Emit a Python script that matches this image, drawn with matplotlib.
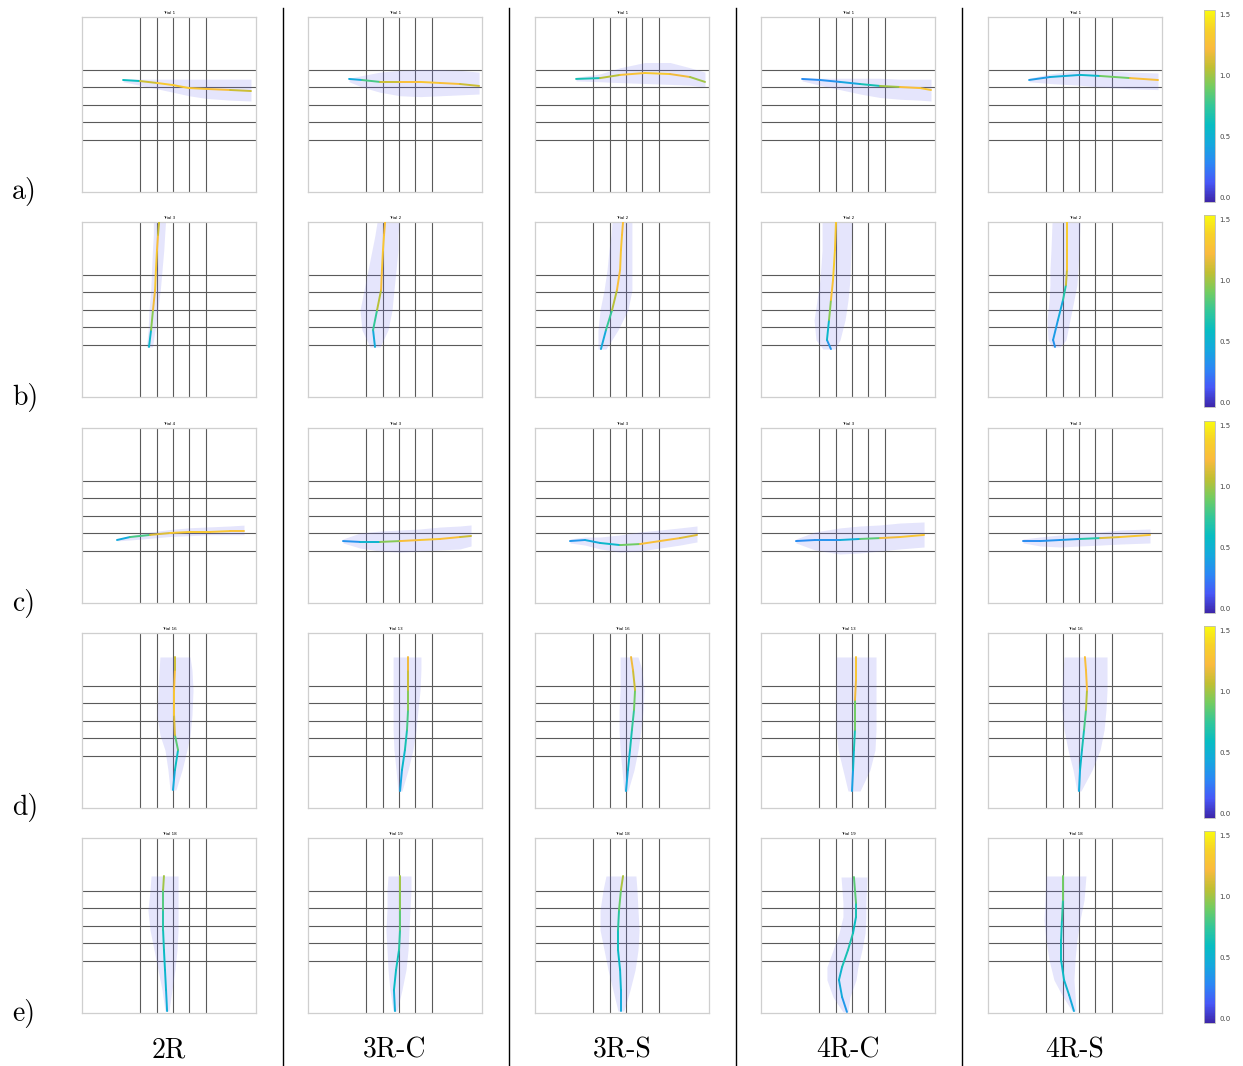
import numpy as np
import matplotlib; matplotlib.use("Agg")
import matplotlib.pyplot as plt
from matplotlib.collections import LineCollection
from matplotlib.colors import LinearSegmentedColormap, Normalize
from matplotlib.lines import Line2D
from matplotlib.cm import ScalarMappable

# ── data ──────────────────────────────────────────────────────────────────────
methods = ["2R", "3R-C", "3R-S", "4R-C", "4R-S"]
row_labels = ["a)", "b)", "c)", "d)", "e)"]
trials = [
    ["Trial 1", "Trial 1", "Trial 1", "Trial 1", "Trial 1"],
    ["Trial 3", "Trial 2", "Trial 2", "Trial 2", "Trial 2"],
    ["Trial 4", "Trial 3", "Trial 3", "Trial 3", "Trial 3"],
    ["Trial 16", "Trial 13", "Trial 16", "Trial 13", "Trial 16"],
    ["Trial 18", "Trial 19", "Trial 18", "Trial 19", "Trial 18"],
]
grid_x = [3.33, 4.31, 5.23, 6.15, 7.13]
grid_y = [3.0, 4.0, 5.0, 6.0, 7.0]
cbar_ticks = [0.0, 0.5, 1.0, 1.5]

# row a (horizontal moves): x, y, speed, band low/high in y
a_x = [[2.36, 3.33, 4.31, 5.23, 6.15, 7.13, 8.51, 9.71],
       [2.36, 3.10, 4.14, 5.29, 6.44, 7.59, 8.74, 9.83],
       [2.36, 3.74, 4.89, 6.32, 7.76, 8.91, 9.77],
       [2.36, 3.39, 4.54, 5.69, 6.84, 7.99, 9.14, 9.77],
       [2.36, 3.56, 5.29, 6.44, 8.16, 9.77]]
a_y = [[6.40, 6.34, 6.23, 6.11, 5.94, 5.89, 5.83, 5.77],
       [6.46, 6.40, 6.29, 6.29, 6.29, 6.23, 6.17, 6.06],
       [6.46, 6.51, 6.69, 6.80, 6.74, 6.57, 6.29],
       [6.46, 6.40, 6.29, 6.17, 6.06, 6.00, 5.94, 5.83],
       [6.40, 6.57, 6.69, 6.63, 6.51, 6.40]]
a_c = [[0.3, 0.9, 1.3, 1.35, 1.3, 1.3, 1.2, 1.0],
       [0.3, 0.6, 1.0, 1.2, 1.3, 1.3, 1.2, 1.0],
       [0.4, 0.9, 1.2, 1.35, 1.3, 1.1, 0.9],
       [0.3, 0.3, 0.35, 0.5, 0.8, 1.2, 1.3, 1.3],
       [0.3, 0.45, 0.5, 0.6, 1.2, 1.3]]
a_lo = [[6.3, 6.1, 5.9, 5.7, 5.5, 5.35, 5.25, 5.2],
        [6.3, 6.0, 5.7, 5.5, 5.45, 5.5, 5.55, 5.6],
        [6.35, 6.3, 6.25, 6.2, 6.15, 6.1, 6.0],
        [6.35, 6.1, 5.85, 5.6, 5.4, 5.3, 5.25, 5.2],
        [6.3, 6.2, 6.1, 6.0, 5.9, 5.85]]
a_hi = [[6.45, 6.45, 6.45, 6.45, 6.45, 6.45, 6.45, 6.45],
        [6.5, 6.65, 6.85, 6.95, 7.0, 7.0, 6.95, 6.85],
        [6.55, 6.75, 7.1, 7.4, 7.4, 7.1, 6.85],
        [6.5, 6.5, 6.5, 6.5, 6.5, 6.45, 6.45, 6.45],
        [6.5, 6.75, 6.95, 6.95, 6.85, 6.8]]

# row b (vertical moves): band low/high in x
b_x = [[3.85, 3.97, 4.08, 4.20, 4.25, 4.31, 4.37, 4.43],
       [3.85, 3.74, 3.97, 4.20, 4.25, 4.31, 4.37, 4.43],
       [3.79, 4.08, 4.43, 4.71, 4.89, 4.94, 5.00, 5.06],
       [4.02, 3.79, 3.91, 4.02, 4.14, 4.25, 4.31],
       [3.85, 3.74, 4.02, 4.31, 4.48, 4.54, 4.54, 4.54]]
b_y = [[2.86, 3.83, 4.97, 6.11, 7.26, 8.40, 9.26, 10.0],
       [2.86, 3.83, 4.97, 6.11, 7.26, 8.40, 9.26, 10.0],
       [2.74, 3.83, 4.97, 6.11, 7.26, 8.40, 9.26, 10.0],
       [2.74, 3.26, 4.40, 5.54, 6.69, 8.40, 10.0],
       [2.86, 3.26, 4.40, 5.54, 6.40, 7.26, 8.40, 10.0]]
b_c = [[0.3, 0.8, 1.1, 1.3, 1.35, 1.3, 1.2, 1.0],
       [0.3, 0.6, 0.9, 1.2, 1.3, 1.3, 1.3, 1.2],
       [0.3, 0.6, 0.9, 1.2, 1.3, 1.3, 1.3, 1.2],
       [0.3, 0.4, 0.7, 1.2, 1.35, 1.35, 1.3],
       [0.3, 0.35, 0.4, 0.5, 0.9, 1.3, 1.35, 1.35]]
b_lo = [[3.7, 3.8, 3.85, 3.95, 4.0, 4.05, 4.1, 4.1],
        [3.56, 3.10, 2.99, 3.22, 3.45, 3.68, 3.85, 3.97],
        [3.62, 3.62, 3.74, 3.97, 4.14, 4.25, 4.37, 4.43],
        [3.56, 3.16, 3.05, 3.22, 3.39, 3.51, 3.51],
        [3.68, 3.45, 3.39, 3.51, 3.56, 3.56, 3.62, 3.68]]
b_hi = [[4.05, 4.2, 4.35, 4.5, 4.6, 4.7, 4.75, 4.8],
        [4.14, 4.60, 4.83, 4.94, 5.06, 5.17, 5.17, 5.23],
        [4.08, 4.77, 5.34, 5.57, 5.57, 5.57, 5.57, 5.57],
        [4.25, 4.54, 4.83, 5.00, 5.11, 5.17, 5.23],
        [4.14, 4.48, 4.71, 4.94, 5.11, 5.17, 5.23, 5.29]]

# row c (horizontal moves)
c_x = [[2.01, 2.76, 3.91, 5.06, 6.21, 7.36, 8.51, 9.31],
       [2.01, 2.99, 4.14, 5.29, 6.44, 7.59, 8.74, 9.37],
       [2.01, 2.87, 3.74, 4.89, 6.03, 7.18, 8.33, 9.31],
       [2.01, 3.10, 4.54, 5.69, 6.84, 7.99, 9.37],
       [2.01, 2.99, 4.14, 5.29, 6.44, 7.59, 9.31]]
c_y = [[3.60, 3.77, 3.89, 4.00, 4.06, 4.06, 4.11, 4.11],
       [3.54, 3.49, 3.49, 3.54, 3.60, 3.66, 3.77, 3.83],
       [3.54, 3.60, 3.43, 3.31, 3.37, 3.54, 3.71, 3.89],
       [3.54, 3.60, 3.60, 3.66, 3.71, 3.77, 3.89],
       [3.54, 3.54, 3.60, 3.66, 3.71, 3.77, 3.89]]
c_c = [[0.3, 0.6, 1.0, 1.3, 1.35, 1.3, 1.3, 1.25],
       [0.3, 0.35, 0.7, 1.2, 1.3, 1.3, 1.2, 1.0],
       [0.3, 0.4, 0.5, 0.6, 1.2, 1.3, 1.2, 1.1],
       [0.3, 0.3, 0.35, 0.6, 1.1, 1.3, 1.3],
       [0.3, 0.3, 0.35, 0.4, 1.0, 1.3, 1.3]]
c_lo = [[3.55, 3.6, 3.7, 3.8, 3.85, 3.9, 3.9, 3.9],
        [3.43, 3.14, 2.97, 2.91, 2.97, 3.03, 3.09, 3.26],
        [3.43, 3.31, 3.09, 2.91, 2.97, 3.14, 3.31, 3.49],
        [3.43, 3.03, 2.80, 2.86, 2.97, 3.09, 3.20],
        [3.43, 3.26, 3.20, 3.26, 3.31, 3.37, 3.43]]
c_hi = [[3.65, 3.85, 4.05, 4.2, 4.3, 4.35, 4.4, 4.45],
        [3.66, 4.00, 4.11, 4.17, 4.23, 4.34, 4.40, 4.46],
        [3.66, 3.77, 3.77, 3.89, 4.06, 4.17, 4.29, 4.40],
        [3.66, 4.06, 4.29, 4.40, 4.46, 4.57, 4.63],
        [3.66, 3.77, 3.89, 4.00, 4.06, 4.17, 4.23]]

# row d (vertical moves)
d_x = [[5.23, 5.34, 5.52, 5.34, 5.29, 5.29, 5.34, 5.34],
       [5.29, 5.40, 5.57, 5.69, 5.75, 5.75, 5.75, 5.75],
       [5.23, 5.34, 5.46, 5.57, 5.69, 5.75, 5.63, 5.52],
       [5.23, 5.29, 5.34, 5.40, 5.40, 5.46, 5.46],
       [5.23, 5.29, 5.40, 5.52, 5.63, 5.69, 5.63, 5.57]]
d_y = [[1.03, 2.17, 3.31, 4.17, 5.31, 6.74, 7.89, 8.63],
       [0.97, 2.17, 3.31, 4.46, 5.60, 6.74, 7.89, 8.63],
       [0.97, 2.17, 3.31, 4.46, 5.60, 6.74, 7.89, 8.63],
       [0.97, 2.17, 3.31, 4.46, 6.17, 7.31, 8.63],
       [0.97, 2.17, 3.31, 4.46, 5.60, 6.74, 7.89, 8.63]]
d_c = [[0.4, 0.5, 0.7, 1.0, 1.3, 1.3, 1.2, 1.0],
       [0.35, 0.5, 0.6, 0.7, 0.9, 1.0, 1.2, 1.2],
       [0.4, 0.5, 0.6, 0.7, 0.8, 1.0, 1.2, 1.2],
       [0.3, 0.5, 0.6, 0.7, 1.1, 1.3, 1.3],
       [0.4, 0.5, 0.6, 0.7, 0.9, 1.2, 1.3, 1.2]]
d_lo = [[5.06, 4.94, 4.77, 4.48, 4.31, 4.37, 4.43, 4.48],
        [5.17, 5.06, 4.94, 4.89, 4.89, 4.89, 4.89, 4.89],
        [5.11, 5.00, 4.89, 4.83, 4.83, 4.89, 4.89, 4.89],
        [5.00, 4.71, 4.43, 4.31, 4.31, 4.31, 4.31],
        [5.11, 4.89, 4.60, 4.37, 4.25, 4.25, 4.31, 4.37]]
d_hi = [[5.40, 5.75, 6.03, 6.21, 6.32, 6.38, 6.32, 6.21],
        [5.40, 5.75, 6.03, 6.21, 6.32, 6.44, 6.49, 6.49],
        [5.34, 5.69, 5.92, 6.09, 6.21, 6.26, 6.15, 5.92],
        [5.69, 6.26, 6.55, 6.61, 6.61, 6.61, 6.61],
        [5.34, 5.98, 6.44, 6.67, 6.78, 6.84, 6.84, 6.84]]

# row e (vertical moves)
e_x = [[4.89, 4.83, 4.77, 4.71, 4.66, 4.66, 4.66, 4.71],
       [5.00, 4.94, 5.06, 5.23, 5.29, 5.29, 5.29, 5.29],
       [4.94, 4.94, 4.89, 4.77, 4.77, 4.83, 4.94, 5.06],
       [4.94, 4.66, 4.48, 4.66, 5.00, 5.29, 5.46, 5.46, 5.34],
       [4.94, 4.66, 4.37, 4.20, 4.20, 4.25, 4.31, 4.31]]
e_y = [[0.11, 1.31, 2.46, 3.60, 4.74, 5.89, 7.03, 7.83],
       [0.11, 1.31, 2.46, 3.60, 4.74, 5.89, 7.03, 7.83],
       [0.11, 1.31, 2.46, 3.60, 4.74, 5.89, 7.03, 7.83],
       [0.06, 0.91, 1.89, 2.63, 3.60, 4.57, 5.49, 6.29, 7.77],
       [0.11, 1.03, 1.89, 3.03, 4.17, 5.31, 6.46, 7.83]]
e_c = [[0.45, 0.5, 0.55, 0.6, 0.65, 0.75, 0.9, 1.1],
       [0.4, 0.55, 0.6, 0.65, 0.8, 0.9, 1.0, 1.0],
       [0.4, 0.5, 0.55, 0.6, 0.65, 0.8, 0.95, 1.1],
       [0.3, 0.4, 0.5, 0.55, 0.75, 0.6, 0.6, 0.7, 1.0],
       [0.4, 0.5, 0.55, 0.6, 0.6, 0.65, 0.8, 1.0]]
e_lo = [[4.77, 4.60, 4.37, 4.14, 3.91, 3.79, 3.91, 3.97],
        [4.89, 4.71, 4.60, 4.54, 4.48, 4.54, 4.54, 4.60],
        [4.77, 4.48, 4.20, 3.97, 3.74, 3.74, 3.91, 4.08],
        [4.71, 4.14, 3.79, 3.79, 4.14, 4.48, 4.71, 4.71, 4.60],
        [4.83, 4.25, 3.79, 3.51, 3.33, 3.22, 3.28, 3.33]]
e_hi = [[5.00, 5.17, 5.34, 5.46, 5.52, 5.52, 5.52, 5.52],
        [5.11, 5.40, 5.63, 5.75, 5.80, 5.86, 5.92, 5.92],
        [5.11, 5.46, 5.75, 5.92, 5.98, 5.92, 5.86, 5.80],
        [5.00, 5.11, 5.46, 5.57, 5.80, 5.98, 6.03, 6.03, 6.09],
        [5.06, 5.00, 4.94, 5.00, 5.11, 5.29, 5.52, 5.63]]

rows = [
    ("h", a_x, a_y, a_c, a_lo, a_hi),
    ("v", b_x, b_y, b_c, b_lo, b_hi),
    ("h", c_x, c_y, c_c, c_lo, c_hi),
    ("v", d_x, d_y, d_c, d_lo, d_hi),
    ("v", e_x, e_y, e_c, e_lo, e_hi),
]

# ── style ─────────────────────────────────────────────────────────────────────
# rough MATLAB parula
parula = LinearSegmentedColormap.from_list("parula", [
    (0.00, (0.24, 0.15, 0.66)),
    (0.10, (0.28, 0.34, 0.97)),
    (0.20, (0.17, 0.53, 0.96)),
    (0.30, (0.08, 0.66, 0.87)),
    (0.40, (0.03, 0.74, 0.76)),
    (0.50, (0.20, 0.78, 0.60)),
    (0.60, (0.45, 0.80, 0.38)),
    (0.70, (0.75, 0.75, 0.20)),
    (0.80, (0.98, 0.73, 0.24)),
    (0.90, (0.97, 0.82, 0.16)),
    (1.00, (0.98, 0.98, 0.06)),
])
norm = Normalize(vmin=-0.04, vmax=1.54)

W, H = 1243, 1066
col_left = [82, 308, 535, 761, 988]
row_top = [17, 222, 428, 633, 838]
PW, PH = 174, 175

fig = plt.figure(figsize=(W / 100, H / 100), dpi=100)


def fbox(x, y, w, h):
    return [x / W, 1 - (y + h) / H, w / W, h / H]


for r, (kind, xs, ys, cs, los, his) in enumerate(rows):
    for m in range(5):
        ax = fig.add_axes(fbox(col_left[m], row_top[r], PW, PH))
        ax.set_xlim(0, 10); ax.set_ylim(0, 10)
        ax.set_xticks([]); ax.set_yticks([])
        for s in ax.spines.values():
            s.set_color("#cfcfcf"); s.set_linewidth(0.9)
        for gx in grid_x:
            ax.axvline(gx, color="#5a5a5a", lw=0.8, zorder=1)
        for gy in grid_y:
            ax.axhline(gy, color="#5a5a5a", lw=0.8, zorder=1)

        x = np.array(xs[m]); y = np.array(ys[m]); c = np.array(cs[m])
        if kind == "h":
            ax.fill_between(x, los[m], his[m], color="#7070f0", alpha=0.18,
                            lw=0, zorder=2)
        else:
            ax.fill_betweenx(y, los[m], his[m], color="#7070f0", alpha=0.18,
                             lw=0, zorder=2)
        pts = np.column_stack([x, y])
        segs = np.stack([pts[:-1], pts[1:]], axis=1)
        lc = LineCollection(segs, cmap=parula, norm=norm, lw=1.4, zorder=3,
                            capstyle="round")
        lc.set_array((c[:-1] + c[1:]) / 2)
        ax.add_collection(lc)
        ax.set_title(trials[r][m], fontsize=3, pad=2)

    # colorbar for the row
    cax = fig.add_axes(fbox(1204, row_top[r] - 7, 11, 192))
    cb = fig.colorbar(ScalarMappable(norm=norm, cmap=parula), cax=cax)
    cb.set_ticks(cbar_ticks)
    cb.ax.tick_params(labelsize=5, length=0, pad=3, colors="#444444")
    cb.outline.set_edgecolor("#bbbbbb"); cb.outline.set_linewidth(0.6)

    fig.text(12 / W, 1 - (row_top[r] + 175) / H, row_labels[r],
             fontfamily="cmr10", fontsize=20, ha="left", va="center")

for m, name in enumerate(methods):
    fig.text((col_left[m] + PW / 2) / W, 1 - 1050 / H, name,
             fontfamily="cmr10", fontsize=20, ha="center", va="center")

for sx in [283, 509, 736, 962]:
    fig.add_artist(Line2D([sx / W, sx / W], [0, 1 - 8 / H],
                          transform=fig.transFigure, color="black", lw=1.0))

fig.savefig("out.png", dpi=100)
